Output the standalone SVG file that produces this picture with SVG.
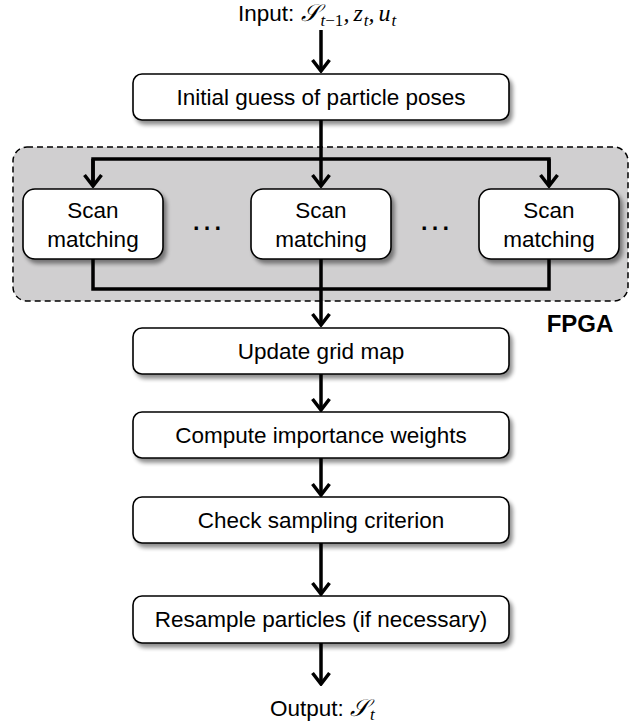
<svg xmlns="http://www.w3.org/2000/svg" width="630" height="726" viewBox="0 0 630 726">
  <style>
    .box { fill: #ffffff; stroke: #000000; stroke-width: 1.6; filter: url(#shadow); }
    .lbl { font-family: "Liberation Sans", Arial, sans-serif; font-size: 22.5px; fill: #000000; text-anchor: middle; }
    .math { font-family: "Liberation Serif", "DejaVu Serif", serif; font-style: italic; font-size: 24px; }
    .sub { font-family: "Liberation Serif", "DejaVu Serif", serif; font-style: italic; font-size: 17px; }
    .conn { fill: none; stroke: #000000; stroke-width: 3.5; stroke-linejoin: miter; }
    .arr { marker-end: url(#chev); }
  </style>
  <defs>
    <filter id="shadow" x="-10%" y="-20%" width="125%" height="160%">
      <feGaussianBlur in="SourceAlpha" stdDeviation="2.2"/>
      <feOffset dx="3" dy="4" result="b"/>
      <feComponentTransfer><feFuncA type="linear" slope="0.45"/></feComponentTransfer>
      <feMerge><feMergeNode/><feMergeNode in="SourceGraphic"/></feMerge>
    </filter>
    <marker id="chev" markerUnits="userSpaceOnUse" viewBox="-16 -10 18 20" refX="0" refY="0" markerWidth="18" markerHeight="20" orient="auto">
      <path d="M-11,-8.5 L0,0 L-11,8.5" fill="none" stroke="#000" stroke-width="3.5" stroke-linejoin="miter"/>
    </marker>
  </defs>

  <g id="fpga">
    <rect x="13" y="147" width="615" height="154" rx="14" fill="#d0cfd0" stroke="#000" stroke-width="1.5" stroke-dasharray="6,4"/>
    <text x="580" y="332" style="font-family:'Liberation Sans',Arial,sans-serif;font-size:24px;font-weight:bold;text-anchor:middle">FPGA</text>
  </g>

  <g id="input">
    <text x="238" y="21" class="lbl" style="text-anchor:start">Input: <tspan class="math">𝒮</tspan><tspan class="sub" dy="5" dx="1">t</tspan><tspan class="sub" style="font-style:normal">−1</tspan><tspan class="math" dy="-5">,</tspan><tspan class="math" dx="4">z</tspan><tspan class="sub" dy="5" dx="1">t</tspan><tspan class="math" dy="-5">,</tspan><tspan class="math" dx="4">u</tspan><tspan class="sub" dy="5" dx="1">t</tspan></text>
  </g>

  <g id="connectors">
    <path class="conn arr" d="M321,30 V71"/>
    <path class="conn" d="M321,120 V159"/>
    <path class="conn" d="M93,186 V159 H549 V186"/>
    <path class="conn arr" d="M93,159 V186"/>
    <path class="conn arr" d="M549,159 V186"/>
    <path class="conn arr" d="M321,159 V186"/>
    <path class="conn" d="M93,259 V289 H549 V259"/>
    <path class="conn arr" d="M321,259 V325"/>
    <path class="conn arr" d="M321,374 V410"/>
    <path class="conn arr" d="M321,458 V495"/>
    <path class="conn arr" d="M321,543 V594"/>
    <path class="conn arr" d="M321,643 V684"/>
  </g>

  <g id="n_initial">
    <rect class="box" x="133" y="74" width="376" height="46" rx="9"/>
    <text class="lbl" x="321" y="105">Initial guess of particle poses</text>
  </g>
  <g id="n_scan1">
    <rect class="box" x="23" y="189" width="140" height="70" rx="12"/>
    <text class="lbl" x="93" y="218">Scan</text>
    <text class="lbl" x="93" y="247">matching</text>
  </g>
  <g id="n_dots1">
    <text class="lbl" x="207" y="230" style="font-size:34px">…</text>
  </g>
  <g id="n_scan2">
    <rect class="box" x="251" y="189" width="140" height="70" rx="12"/>
    <text class="lbl" x="321" y="218">Scan</text>
    <text class="lbl" x="321" y="247">matching</text>
  </g>
  <g id="n_dots2">
    <text class="lbl" x="435" y="230" style="font-size:34px">…</text>
  </g>
  <g id="n_scan3">
    <rect class="box" x="479" y="189" width="140" height="70" rx="12"/>
    <text class="lbl" x="549" y="218">Scan</text>
    <text class="lbl" x="549" y="247">matching</text>
  </g>
  <g id="n_update">
    <rect class="box" x="133" y="328" width="376" height="46" rx="9"/>
    <text class="lbl" x="321" y="359">Update grid map</text>
  </g>
  <g id="n_compute">
    <rect class="box" x="133" y="412" width="376" height="46" rx="9"/>
    <text class="lbl" x="321" y="443">Compute importance weights</text>
  </g>
  <g id="n_check">
    <rect class="box" x="133" y="497" width="376" height="46" rx="9"/>
    <text class="lbl" x="321" y="528">Check sampling criterion</text>
  </g>
  <g id="n_resample">
    <rect class="box" x="133" y="596" width="376" height="47" rx="9"/>
    <text class="lbl" x="321" y="627">Resample particles (if necessary)</text>
  </g>
  <g id="output">
    <text x="270" y="716" class="lbl" style="text-anchor:start">Output: <tspan class="math">𝒮</tspan><tspan class="sub" dy="4" dx="1">t</tspan></text>
  </g>
</svg>
